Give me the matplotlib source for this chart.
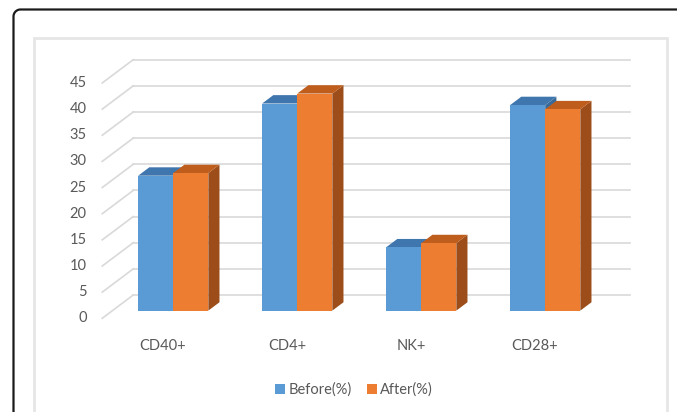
import numpy as np
import matplotlib
matplotlib.use("Agg")
import matplotlib.pyplot as plt
from matplotlib.patches import Polygon, Rectangle, Patch

categories = ["CD40+", "CD4+", "NK+", "CD28+"]
before = [25.8, 39.6, 12.1, 39.3]
after = [26.3, 41.5, 12.9, 38.5]
yticks = [0, 5, 10, 15, 20, 25, 30, 35, 40, 45]
series = ["Before(%)", "After(%)"]

# colours: front, top, side
blue = ("#5b9bd5", "#3f76ad", "#3a6a9a")
orange = ("#ed7d31", "#bf5d1c", "#9c4d1a")

W, H = 677, 412
fig = plt.figure(figsize=(W / 100, H / 100), dpi=100)

# background frame in pixel coords
bg = fig.add_axes([0, 0, 1, 1])
bg.set_xlim(0, W)
bg.set_ylim(H, 0)
bg.axis("off")
r = 7
fx, fy = 13.5, 9.5
t = np.linspace(np.pi, 1.5 * np.pi, 20)
frame_x = np.concatenate([[fx], fx + r + r * np.cos(t), [W + 5]])
frame_y = np.concatenate([[H + 5], fy + r + r * np.sin(t), [fy]])
bg.plot(frame_x, frame_y, color="#1a1a1a", lw=1.6)
bg.add_patch(Rectangle((34, 37.5), 633, 420, facecolor="white", edgecolor="#e6e6e6", lw=2))

# main axes: data -> pixel  px = 163 + 124*x,  py = 318.3 - 5.23*y
x0px, x1px, ytop, ybot = 95, 645, 40, 330
ax = fig.add_axes([x0px / W, (H - ybot) / H, (x1px - x0px) / W, (ybot - ytop) / H])
ax.set_xlim((x0px - 163) / 124, (x1px - 163) / 124)
ax.set_ylim((318.3 - ybot) / 5.23, (318.3 - ytop) / 5.23)
ax.axis("off")
ax.patch.set_alpha(0)

dX, dY = 0.25, 4.45        # full depth offset
xL, xR = -0.49, 3.52        # wall extents in the front plane
grid_c = "#d9d9d9"

for v in yticks:
    ax.plot([xL + dX, xR + dX], [v + dY, v + dY], color=grid_c, lw=1.2, zorder=1)
    ax.plot([xL, xL + dX], [v, v + dY], color=grid_c, lw=1.2, zorder=1)
    ax.text(xL - 0.125, v, str(v), ha="right", va="center", fontsize=10.5,
            color="#595959", family="Lato")

bw = 0.283                   # bar width
f, d = 0.33, 0.36            # bar front depth, bar depth
for s, (vals, cols) in enumerate([(before, blue), (after, orange)]):
    for i, v in enumerate(vals):
        xl = i - bw + s * bw + f * dX
        xr = xl + bw
        yb = f * dY
        ax.bar(xl, v, width=bw, bottom=yb, align="edge", color=cols[0], zorder=3 + s)
        top = [(xl, yb + v), (xr, yb + v), (xr + d * dX, yb + v + d * dY), (xl + d * dX, yb + v + d * dY)]
        side = [(xr, yb), (xr, yb + v), (xr + d * dX, yb + v + d * dY), (xr + d * dX, yb + d * dY)]
        ax.add_patch(Polygon(side, closed=True, facecolor=cols[2], edgecolor="none", zorder=2.9 + s))
        ax.add_patch(Polygon(top, closed=True, facecolor=cols[1], edgecolor="none", zorder=2.9 + s))

for i, c in enumerate(categories):
    ax.text(i, (318.3 - 346) / 5.23, c, ha="center", va="center", fontsize=10.5,
            color="#595959", family="Lato", clip_on=False)

handles = [Patch(facecolor=blue[0]), Patch(facecolor=orange[0])]
fig.legend(handles, series, loc="center", bbox_to_anchor=(354 / W, 1 - 390 / H),
           ncol=2, frameon=False, handlelength=0.7, handleheight=0.7,
           handletextpad=0.25, columnspacing=1.0, prop={"family": "Lato", "size": 10.5},
           labelcolor="#595959")

fig.savefig("out.png", dpi=100)
